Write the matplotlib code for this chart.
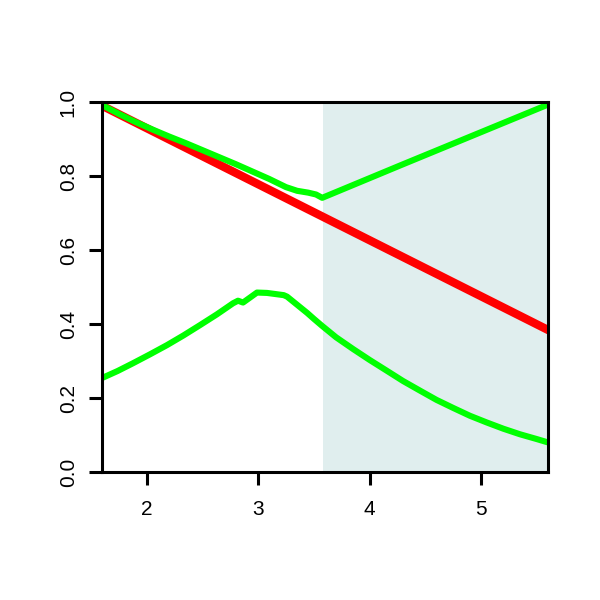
import matplotlib
matplotlib.use("Agg")
import matplotlib.pyplot as plt

# Data
red_x = [1.6, 5.6]
red_y = [0.99, 0.384]

upper_x = [1.6, 1.75, 1.9, 2.05, 2.2, 2.35, 2.5, 2.65, 2.8, 2.95, 3.1, 3.25,
           3.35, 3.45, 3.52, 3.575, 4.27, 5.6]
upper_y = [0.992, 0.968, 0.946, 0.926, 0.907, 0.889, 0.870, 0.851, 0.832, 0.812, 0.792, 0.770,
           0.760, 0.755, 0.750, 0.741, 0.828, 0.993]

lower_x = [1.6, 1.74, 1.878, 2.03, 2.183, 2.33, 2.479, 2.63, 2.775, 2.82, 2.865, 2.93, 2.99,
           3.08, 3.23, 3.26, 3.35, 3.44, 3.5, 3.57, 3.7, 3.854, 4.0, 4.153, 4.3, 4.452,
           4.6, 4.751, 4.9, 5.05, 5.2, 5.349, 5.5, 5.6]
lower_y = [0.254, 0.273, 0.294, 0.318, 0.343, 0.369, 0.397, 0.426, 0.456, 0.463, 0.458, 0.472, 0.485,
           0.484, 0.478, 0.474, 0.452, 0.430, 0.414, 0.396, 0.364, 0.332, 0.303, 0.274, 0.246, 0.220,
           0.195, 0.173, 0.152, 0.134, 0.117, 0.102, 0.089, 0.080]

shade_start = 3.582
x_ticks = [2, 3, 4, 5]
y_ticks = [0.0, 0.2, 0.4, 0.6, 0.8, 1.0]

plt.rcParams['font.family'] = ['Liberation Sans', 'DejaVu Sans']

fig = plt.figure(figsize=(6, 6), dpi=100)
ax = fig.add_axes([0.17, 0.2133, 0.7433, 0.6167])

ax.axvspan(shade_start, 5.6, color="#E0EEEE", lw=0, zorder=0)
ax.plot(red_x, red_y, color="#FF0000", lw=6.0, zorder=2)
ax.plot(upper_x, upper_y, color="#00FF00", lw=4.4, zorder=3)
ax.plot(lower_x, lower_y, color="#00FF00", lw=4.4, zorder=3)

ax.set_xlim(1.6, 5.6)
ax.set_ylim(0, 1)
ax.set_xticks(x_ticks)
ax.set_xticklabels([str(t) for t in x_ticks])
ax.set_yticks(y_ticks)
ax.set_yticklabels([f"{t:.1f}" for t in y_ticks], rotation=90, va="center")

for s in ax.spines.values():
    s.set_linewidth(2.2)
    s.set_zorder(5)
ax.tick_params(direction="out", length=9.5, width=2.2, labelsize=15)
ax.tick_params(axis="x", pad=11)
ax.tick_params(axis="y", pad=8)

fig.savefig("out.png", dpi=100)
